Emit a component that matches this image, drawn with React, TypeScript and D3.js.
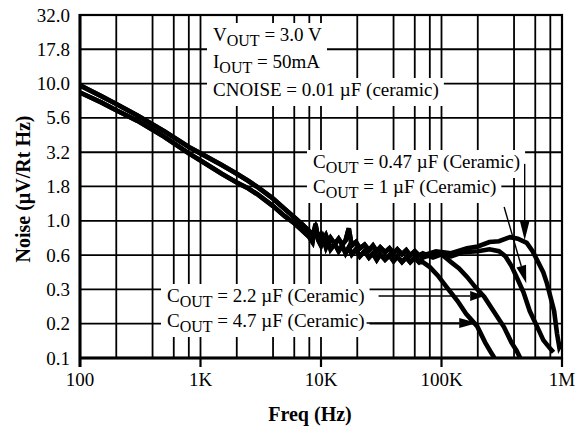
import React, { useEffect, useRef } from 'react';
import * as d3 from 'd3';

const W = 581;
const H = 436;
const FONT = '"Liberation Serif", "Times New Roman", serif';

// axes
const yTickValues = [0.1, 0.178, 0.316, 0.562, 1, 1.78, 3.16, 5.62, 10, 17.8, 31.62];
const yTickLabels = ['0.1', '0.2', '0.3', '0.6', '1.0', '1.8', '3.2', '5.6', '10.0', '17.8', '32.0'];
const xTickValues = [100, 1e3, 1e4, 1e5, 1e6];
const xTickLabels = ['100', '1K', '10K', '100K', '1M'];
const gridDecades = [100, 1e3, 1e4, 1e5];
const gridSteps = [1, 2, 4, 6, 8];

// shared low / mid frequency part (all four curves overlap here)
const baseFreq = [100, 150, 200, 300, 500, 800, 1000, 1500, 2000, 2500, 3000, 4000, 5000, 6000, 7000, 8000, 8500, 9000, 9500, 10000, 10500, 11000, 11500, 12000, 13000, 14000, 15000, 16000, 17000, 18000, 19500, 21000, 23000, 25000, 27000, 29000, 31000, 34000, 37000, 40000, 43000, 47000, 51000, 55000, 60000, 65000];
const baseUpper = [9.7, 8.1, 7.1, 5.85, 4.5, 3.45, 3.1, 2.55, 2.2, 1.95, 1.75, 1.45, 1.22, 1.06, 0.94, 0.84, 0.8, 0.9, 0.76, 0.8, 0.72, 0.78, 0.7, 0.75, 0.68, 0.74, 0.67, 0.72, 0.88, 0.66, 0.7, 0.63, 0.67, 0.61, 0.66, 0.6, 0.64, 0.59, 0.63, 0.58, 0.62, 0.57, 0.61, 0.56, 0.6, 0.56];
const baseLower = [8.6, 7.3, 6.4, 5.35, 4.1, 3.1, 2.75, 2.2, 1.9, 1.72, 1.55, 1.28, 1.08, 0.96, 0.85, 0.76, 0.7, 0.95, 0.72, 0.66, 0.74, 0.64, 0.7, 0.62, 0.68, 0.6, 0.66, 0.58, 0.64, 0.57, 0.62, 0.55, 0.6, 0.54, 0.58, 0.52, 0.57, 0.52, 0.56, 0.51, 0.55, 0.5, 0.54, 0.5, 0.54, 0.5];

// high frequency tails, one per output capacitor
const tail047Freq = [70000, 90000, 120000, 163000, 200000, 250000, 300000, 370000, 430000, 510000, 570000, 620000, 700000, 750000, 860000, 910000, 950000, 1000000];
const tail047Noise = [0.56, 0.6, 0.58, 0.63, 0.65, 0.7, 0.71, 0.76, 0.74, 0.69, 0.6, 0.52, 0.42, 0.35, 0.22, 0.15, 0.12, 0.13];
const tail1Freq = [70000, 90000, 120000, 150000, 200000, 250000, 300000, 340000, 380000, 420000, 480000, 540000, 620000, 700000, 780000, 850000];
const tail1Noise = [0.54, 0.58, 0.55, 0.59, 0.6, 0.62, 0.6, 0.55, 0.47, 0.39, 0.3, 0.22, 0.17, 0.135, 0.12, 0.11];
const tail22Freq = [70000, 85000, 100000, 120000, 140000, 163000, 190000, 226000, 270000, 330000, 380000, 420000, 450000];
const tail22Noise = [0.58, 0.54, 0.57, 0.5, 0.45, 0.39, 0.33, 0.28, 0.22, 0.168, 0.13, 0.113, 0.1];
const tail47Freq = [70000, 80000, 93000, 110000, 136000, 160000, 198000, 230000, 254000, 275000];
const tail47Noise = [0.5, 0.46, 0.4, 0.33, 0.26, 0.21, 0.17, 0.13, 0.112, 0.1];

// arrow ends [freq, noise]
const arrow047 = [[490000, 2.6], [490000, 0.72]];
const arrow1 = [[331000, 1.26], [505000, 0.35]];
const arrow22Tip = [226000, 0.283];
const arrow47Tip = [198000, 0.18];

export default function App() {
    const ref = useRef<SVGSVGElement>(null);

    useEffect(() => {
        const svg = d3.select(ref.current);
        svg.selectAll('*').remove();

        const x = d3.scaleLog().domain([100, 1e6]).range([80, 562]);
        const y = d3.scaleLog().domain([0.1, 31.62]).range([358, 15]);

        svg.append('defs').append('clipPath').attr('id', 'plot')
            .append('rect').attr('x', 80).attr('y', 15).attr('width', 482).attr('height', 343);

        // grid
        const grid = svg.append('g').attr('stroke', '#000').attr('stroke-width', 1.8);
        const gridFreqs = gridDecades.flatMap(d => gridSteps.map(s => d * s));
        grid.selectAll('line.v').data(gridFreqs).enter().append('line')
            .attr('x1', d => x(d)).attr('x2', d => x(d)).attr('y1', 15).attr('y2', 358);
        grid.selectAll('line.h').data(yTickValues).enter().append('line')
            .attr('x1', 80).attr('x2', 562).attr('y1', d => y(d)).attr('y2', d => y(d));

        // text labels with white boxes
        const notes = svg.append('g').attr('font-family', FONT).attr('font-size', 19).style('white-space', 'pre');
        const label = (lx: number, ly: number, main: string, sub: string | null, rest: string) => {
            const grp = notes.append('g');
            const rect = grp.append('rect').attr('fill', '#fff');
            const t = grp.append('text').attr('x', lx).attr('y', ly);
            t.append('tspan').text(main);
            if (sub) {
                t.append('tspan').attr('font-size', 16).attr('dy', 5).text(sub);
                t.append('tspan').attr('dy', -5).text(rest);
            }
            const bb = (t.node() as SVGTextElement).getBBox();
            rect.attr('x', bb.x - 6).attr('y', ly - 18).attr('width', bb.width + 11).attr('height', 28);
            return bb;
        };
        label(213, 41, 'V', 'OUT', ' = 3.0 V');
        label(213, 68, 'I', 'OUT', ' = 50mA');
        label(213, 96, 'CNOISE = 0.01 µF (ceramic)', null, '');
        label(313, 168, 'C', 'OUT', ' = 0.47 µF (Ceramic)');
        label(313, 193, 'C', 'OUT', ' = 1 µF (Ceramic)');
        const b22 = label(167, 302, 'C', 'OUT', ' = 2.2 µF (Ceramic)');
        const b47 = label(167, 327, 'C', 'OUT', ' = 4.7 µF (Ceramic)');

        // curves
        const line = d3.line<[number, number]>().x(d => x(d[0])).y(d => y(d[1]));
        const build = (base: number[], tf: number[], tn: number[]) =>
            baseFreq.map((f, i) => [f, base[i]] as [number, number])
                .concat(tf.map((f, i) => [f, tn[i]] as [number, number]));
        const series = [
            build(baseUpper, tail047Freq, tail047Noise),
            build(baseLower, tail1Freq, tail1Noise),
            build(baseUpper, tail22Freq, tail22Noise),
            build(baseLower, tail47Freq, tail47Noise),
        ];
        svg.append('g').attr('clip-path', 'url(#plot)')
            .selectAll('path').data(series).enter().append('path')
            .attr('d', d => line(d))
            .attr('fill', 'none').attr('stroke', '#000').attr('stroke-width', 4.6)
            .attr('stroke-linejoin', 'miter');

        // leaders + arrowheads
        const arrows = svg.append('g');
        const arrow = (x1: number, y1: number, x2: number, y2: number, len: number, half: number) => {
            const ang = Math.atan2(y2 - y1, x2 - x1);
            const bx = x2 - len * Math.cos(ang), by = y2 - len * Math.sin(ang);
            const px = -Math.sin(ang) * half, py = Math.cos(ang) * half;
            arrows.append('line').attr('x1', x1).attr('y1', y1).attr('x2', bx).attr('y2', by)
                .attr('stroke', '#000').attr('stroke-width', 1.4);
            arrows.append('path')
                .attr('d', `M${x2},${y2}L${bx + px},${by + py}L${bx - px},${by - py}Z`)
                .attr('fill', '#000');
        };
        arrow(x(arrow047[0][0]), y(arrow047[0][1]), x(arrow047[1][0]), y(arrow047[1][1]), 20, 5);
        arrow(x(arrow1[0][0]), y(arrow1[0][1]), x(arrow1[1][0]), y(arrow1[1][1]), 18, 5);
        arrow(b22.x + b22.width + 14, y(arrow22Tip[1]), x(arrow22Tip[0]), y(arrow22Tip[1]), 14, 5);
        arrow(b47.x + b47.width + 2, y(arrow47Tip[1]), x(arrow47Tip[0]), y(arrow47Tip[1]), 18, 5);

        // frame
        const frame = svg.append('g').attr('stroke', '#000').attr('fill', 'none');
        frame.append('rect').attr('x', 80).attr('y', 15).attr('width', 482).attr('height', 343).attr('stroke-width', 2.2);
        frame.append('line').attr('x1', 80).attr('x2', 80).attr('y1', 14).attr('y2', 367).attr('stroke-width', 3);
        frame.append('line').attr('x1', 79).attr('x2', 563).attr('y1', 358).attr('y2', 358).attr('stroke-width', 3);
        frame.selectAll('line.t').data(xTickValues).enter().append('line')
            .attr('x1', d => x(d)).attr('x2', d => x(d)).attr('y1', 358).attr('y2', 367).attr('stroke-width', 2.2);

        // tick labels
        const tl = svg.append('g').attr('font-family', FONT).attr('font-size', 19).attr('fill', '#000');
        tl.selectAll('text.y').data(yTickValues).enter().append('text')
            .attr('x', 70).attr('y', d => y(d) + 6.5).attr('text-anchor', 'end')
            .text((d, i) => yTickLabels[i]);
        tl.selectAll('text.x').data(xTickValues).enter().append('text')
            .attr('x', d => x(d)).attr('y', 386).attr('text-anchor', 'middle')
            .text((d, i) => xTickLabels[i]);

        // axis titles
        svg.append('text').attr('x', 310).attr('y', 421).attr('text-anchor', 'middle')
            .attr('font-family', FONT).attr('font-size', 20).attr('font-weight', 'bold')
            .text('Freq (Hz)');
        svg.append('text').attr('transform', 'translate(30,189) rotate(-90)').attr('text-anchor', 'middle')
            .attr('font-family', FONT).attr('font-size', 20).attr('font-weight', 'bold')
            .text('Noise (µV/Rt Hz)');
    }, []);

    return (
        <svg ref={ref} width={W} height={H}
            style={{ position: 'absolute', left: 0, top: 0, background: '#fff' }} />
    );
}
